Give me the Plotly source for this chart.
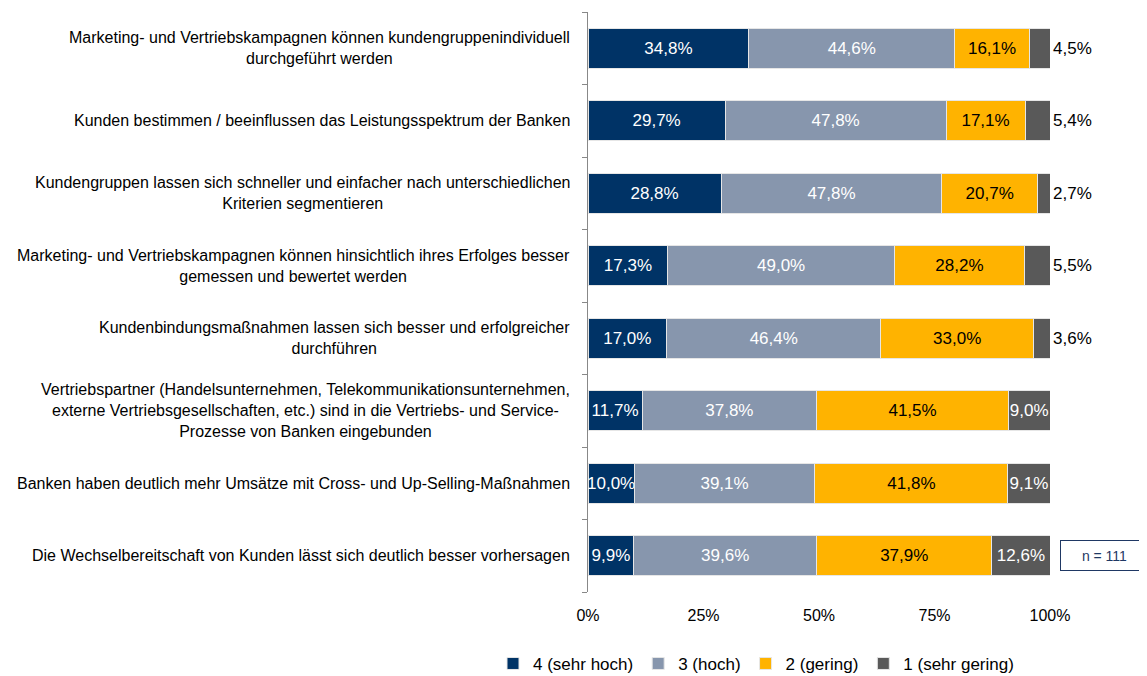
import plotly.graph_objects as go

categories = [
    "Marketing- und Vertriebskampagnen können kundengruppenindividuell<br>durchgeführt werden",
    "Kunden bestimmen / beeinflussen das Leistungsspektrum der Banken",
    "Kundengruppen lassen sich schneller und einfacher nach unterschiedlichen<br>Kriterien segmentieren",
    "Marketing- und Vertriebskampagnen können hinsichtlich ihres Erfolges besser<br>gemessen und bewertet werden",
    "Kundenbindungsmaßnahmen lassen sich besser und erfolgreicher<br>durchführen",
    "Vertriebspartner (Handelsunternehmen, Telekommunikationsunternehmen,<br>externe Vertriebsgesellschaften, etc.) sind in die Vertriebs- und Service-<br>Prozesse von Banken eingebunden",
    "Banken haben deutlich mehr Umsätze mit Cross- und Up-Selling-Maßnahmen",
    "Die Wechselbereitschaft von Kunden lässt sich deutlich besser vorhersagen",
]
sehr_hoch = [34.8, 29.7, 28.8, 17.3, 17.0, 11.7, 10.0, 9.9]
hoch = [44.6, 47.8, 47.8, 49.0, 46.4, 37.8, 39.1, 39.6]
gering = [16.1, 17.1, 20.7, 28.2, 33.0, 41.5, 41.8, 37.9]
sehr_gering = [4.5, 5.4, 2.7, 5.5, 3.6, 9.0, 9.1, 12.6]
series_names = ["4 (sehr hoch)", "3 (hoch)", "2 (gering)", "1 (sehr gering)"]
tick_vals = [0, 25, 50, 75, 100]
tick_text = ["0%", "25%", "50%", "75%", "100%"]
n_label = "n = 111"

FONT = "Liberation Sans, Arial, sans-serif"
colors = ["#003366", "#8796AD", "#FFB300", "#595959"]
text_colors = ["white", "white", "black", "white"]

ypos = list(range(len(categories)))

fig = go.Figure()
for name, vals, col, tcol in zip(series_names, [sehr_hoch, hoch, gering, sehr_gering], colors, text_colors):
    if name == series_names[-1]:
        tpos = ["outside" if v < 8 else "inside" for v in vals]
        tfont_col = ["black" if v < 8 else "white" for v in vals]
    else:
        tpos = "inside"
        tfont_col = tcol
    fig.add_trace(go.Bar(
        y=ypos, x=vals, name=name, orientation="h",
        marker=dict(color=col, line=dict(color="#E6E6E6", width=1)),
        texttemplate="%{x:.1f}%", textposition=tpos,
        insidetextanchor="middle", constraintext="none",
        textfont=dict(family=FONT, size=17, color=tfont_col),
        outsidetextfont=dict(family=FONT, size=17, color="black"),
        width=0.55, cliponaxis=False,
    ))

annotations = []
for i, c in enumerate(categories):
    annotations.append(dict(
        x=-0.034, xref="paper", y=i, yref="y", text=c, showarrow=False,
        xanchor="right", yanchor="middle", align="center",
        font=dict(family=FONT, size=16, color="black"),
    ))
annotations.append(dict(
    x=1.118, xref="paper", y=len(categories) - 1, yref="y", text=n_label,
    showarrow=False, xanchor="center", yanchor="middle",
    bordercolor="#1F3864", borderwidth=1, borderpad=2, width=83, height=25,
    bgcolor="white", font=dict(family=FONT, size=14, color="#1F3864"),
))

# page body has an 8px margin: figure is drawn 8px right/down
fig.update_layout(
    width=1139, height=668,
    barmode="stack", separators=",.",
    plot_bgcolor="white", paper_bgcolor="white",
    margin=dict(l=580, r=97, t=4, b=84, autoexpand=False),
    font=dict(family=FONT, size=15, color="black"),
    uniformtext=dict(minsize=17, mode="show"),
    annotations=annotations,
    legend=dict(orientation="h", x=-0.2056, xanchor="left",
                y=-0.124, yanchor="middle",
                font=dict(family=FONT, size=17), traceorder="normal", itemwidth=30),
    xaxis=dict(range=[0, 100], tickvals=tick_vals, ticktext=tick_text, showgrid=False,
               zeroline=False, showline=False, ticks="", tickfont=dict(size=16),
               automargin=False, ticklabelstandoff=12),
    yaxis=dict(range=[len(categories) - 0.5, -0.5], tickvals=[i - 0.5 for i in range(len(categories) + 1)],
               showticklabels=False, ticks="outside", ticklen=5, tickcolor="#888888",
               showline=True, linecolor="#888888", linewidth=1, showgrid=False, zeroline=False,
               automargin=False),
)
fig.write_html("out.html")
